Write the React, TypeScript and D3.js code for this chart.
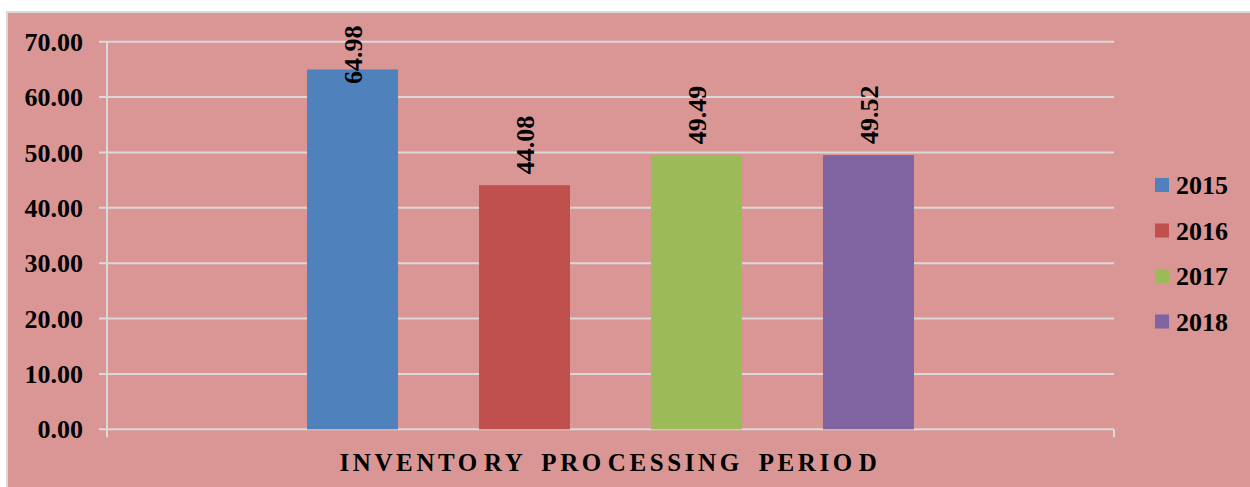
import React from "react";
import * as d3 from "d3";

const years = ["2015", "2016", "2017", "2018"];
const values = [64.98, 44.08, 49.49, 49.52];
const colors = ["#4F81BD", "#C0504D", "#9BBB59", "#8064A2"];
const category = "INVENTORY PROCESSING PERIOD";
const titleParts = ["INVENTO", "RY", " PRO", "CESSING", " PERIO", "D"];

const W = 1250;
const H = 487;
const FONT = '"Liberation Serif", "Times New Roman", Times, serif';
const GRID = "#D9D9D9";

export default function App() {
  const y = d3.scaleLinear().domain([0, 70]).range([429.3, 41.7]);
  const catX = d3.scaleBand().domain([category]).range([107, 1114]);
  const x = d3
    .scaleBand()
    .domain(years)
    .range([catX(category)!, catX(category)! + catX.bandwidth()])
    .paddingInner(0.471)
    .paddingOuter(1.163);
  const ticks = y.ticks(7);
  const fmt = d3.format(".2f");
  const x0 = catX.range()[0];
  const x1 = catX.range()[1];
  const y0 = y(0);

  return (
    <svg
      width={W}
      height={H}
      style={{ position: "absolute", left: 0, top: 0, background: "#fff" }}
      fontFamily={FONT}
      fontWeight="bold"
    >
      <rect x={7} y={12} width={W} height={H} fill="#D99694" stroke={GRID} strokeWidth={2} />

      {/* gridlines and y ticks */}
      {ticks.map((t) => (
        <g key={t}>
          <line x1={x0 - 8} x2={x1} y1={y(t)} y2={y(t)} stroke={GRID} strokeWidth={2} />
          <text x={83} y={y(t)} dy="0.35em" textAnchor="end" fontSize={26} fill="#000">
            {fmt(t)}
          </text>
        </g>
      ))}

      {/* axes */}
      <line x1={x0} x2={x0} y1={y(70)} y2={y0 + 8} stroke={GRID} strokeWidth={2} />
      <line x1={x1} x2={x1} y1={y0} y2={y0 + 8} stroke={GRID} strokeWidth={2} />

      {/* bars */}
      {years.map((yr, i) => (
        <rect
          key={yr}
          x={x(yr)}
          y={y(values[i])}
          width={x.bandwidth()}
          height={y0 - y(values[i])}
          fill={colors[i]}
        />
      ))}

      {/* value labels */}
      {years.map((yr, i) => {
        const cx = x(yr)! + x.bandwidth() / 2;
        const by = Math.max(y(values[i]) - 11, 84);
        return (
          <text
            key={yr}
            transform={`translate(${cx},${by}) rotate(-90)`}
            dy="0.35em"
            fontSize={26}
            fill="#000"
          >
            {fmt(values[i])}
          </text>
        );
      })}

      {/* category title */}
      <text x={610} y={471} textAnchor="middle" fontSize={25} letterSpacing={3.6} fill="#000" style={{ whiteSpace: "pre" }}>
        {titleParts.map((p, i) => (
          <tspan key={i} dx={i === 1 || i === 3 || i === 5 ? 3 : i === 2 || i === 4 ? 6 : 0}>
            {p}
          </tspan>
        ))}
      </text>

      {/* legend */}
      {years.map((yr, i) => {
        const cy = 185 + i * 45.5;
        return (
          <g key={yr}>
            <rect x={1155} y={cy - 7} width={14} height={14} fill={colors[i]} />
            <text x={1176} y={cy} dy="0.35em" fontSize={26} fill="#000">
              {yr}
            </text>
          </g>
        );
      })}
    </svg>
  );
}
